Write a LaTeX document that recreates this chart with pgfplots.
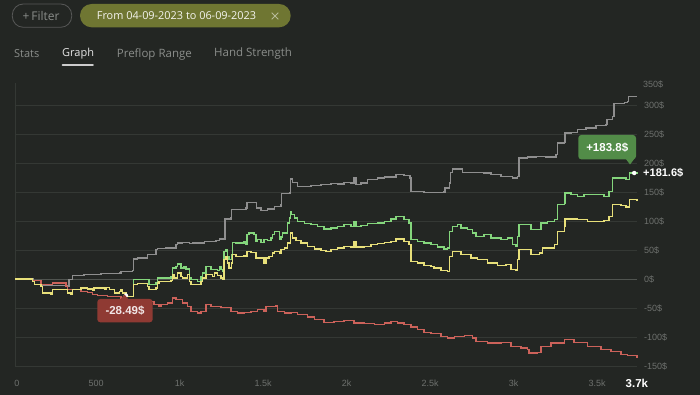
\documentclass[border=0pt]{standalone}
\usepackage{fontspec}
\setmainfont{Liberation Sans}
\newfontfamily\ui{Open Sans}
\usepackage{pgfplots}
\pgfplotsset{compat=1.18}
\definecolor{bg}{HTML}{232623}
\definecolor{gridc}{HTML}{343834}
\definecolor{zeroc}{HTML}{505450}
\definecolor{ticktxt}{HTML}{6E716E}
\definecolor{cgray}{HTML}{8E8E8E}
\definecolor{cgreen}{HTML}{84D67C}
\definecolor{cyellow}{HTML}{E8E07A}
\definecolor{cred}{HTML}{CC625A}
\definecolor{olive}{HTML}{6F7632}
\definecolor{tipgreen}{HTML}{528C48}
\definecolor{tipred}{HTML}{8F3A33}
\definecolor{tabtxt}{HTML}{8A8D8A}
\begin{document}
\begin{tikzpicture}[x=1pt,y=1pt]
\useasboundingbox (0,0) rectangle (700,395);
\fill[bg] (0,0) rectangle (700,395);
% header
\draw[color=black!60!bg!70!white, line width=0.8pt, rounded corners=11pt] (12.3,391) rectangle (71.7,367.7);
\node[text=tabtxt, font=\ui\fontsize{12}{12}\selectfont] at (41,379) {+\,Filter};
\fill[olive, rounded corners=11.6pt] (80,391) rectangle (290.7,367.7);
\node[text=white!92!olive, font=\ui\fontsize{10.9}{12}\selectfont] at (176.5,379) {From 04-09-2023 to 06-09-2023};
\draw[white!50!olive, line width=0.9pt] (271.7,382.3) -- (278.3,375.7) (271.7,375.7) -- (278.3,382.3);
\node[anchor=west, inner sep=0pt, text=tabtxt, font=\ui\fontsize{11}{12}\selectfont] at (14,341) {Stats};
\node[anchor=west, inner sep=0pt, text=white!90!black, font=\ui\fontsize{11}{12}\selectfont] at (62,341) {Graph};
\node[anchor=west, inner sep=0pt, text=tabtxt, font=\ui\fontsize{11.5}{12}\selectfont] at (116.7,341) {Preflop Range};
\node[anchor=west, inner sep=0pt, text=tabtxt, font=\ui\fontsize{11.5}{12}\selectfont] at (214,341) {Hand Strength};
\draw[white!80!black, line width=1.8pt, line cap=round] (62.5,330) -- (93,330);
\begin{axis}[
  at={(9.1,50)}, anchor=south west,
  scale only axis, width=621.7pt, height=283pt,
  xmin=0, xmax=3723, ymin=-150, ymax=338,
  axis line style={draw=none},
  major tick length=0pt,
  xtick={0,500,1000,1500,2000,2500,3000,3500},
  xticklabels={\hspace*{8.4pt}0,500,1k,1.5k,2k,2.5k,3k,3.5k},
  xticklabel style={anchor=center, yshift=-17pt, xshift=-2.5pt, text=ticktxt, font=\fontsize{9}{10}\selectfont},
  extra x ticks={3723},
  extra x tick labels={3.7k},
  extra x tick style={xticklabel style={text=white, xshift=2.5pt, font=\bfseries\fontsize{11.5}{12}\selectfont}},
  ytick={-150,-100,-50,0,50,100,150,200,250,300},
  yticklabels={-150\$,-100\$,-50\$,0\$,50\$,100\$,150\$,200\$,250\$,300\$},
  yticklabel pos=right,
  yticklabel style={anchor=west, xshift=3.7pt, text=ticktxt, font=\fontsize{9}{10}\selectfont},
  ymajorgrids, grid style={gridc, line width=0.8pt},
  clip=false,
]
\draw[gridc, line width=0.8pt] (axis cs:0,-150) -- (axis cs:0,338);
\draw[zeroc, line width=0.9pt] (axis cs:0,0) -- (axis cs:3723,0);
\addplot[const plot, cgray, line width=1.4pt] coordinates {
(0,0)(106,-2.9)(154,-11.6)(316,-12.6)(323,-1.2)(344,5.7)(413,7.4)(513,9.1)(623,10.3)(633,13.3)(703,15)(709,34.5)(733,36.2)(793,41.9)(843,50.5)(853,52.2)(902,53.4)(962,59.1)(972,62.1)(1002,63.3)(1042,60.9)(1062,62.1)(1132,65)(1202,66.7)(1222,69)(1251,69)(1256,103.4)(1292,105.7)(1296,119.5)(1382,122.4)(1388,132.2)(1442,132.2)(1446,122.4)(1472,118.4)(1511,120.7)(1551,125.3)(1591,128.1)(1595,147.1)(1641,148.3)(1647,172.4)(1661,166.7)(1691,159.8)(1771,160.8)(1831,162.6)(1890,164.3)(1931,163.8)(1970,166.7)(2010,165.5)(2030,174.1)(2040,162.6)(2070,165.5)(2110,171.2)(2170,174.1)(2210,175.9)(2280,179.8)(2329,178.1)(2365,174.1)(2369,151.2)(2449,149.5)(2569,150)(2573,156.9)(2599,165.5)(2605,184)(2619,189.6)(2669,189.6)(2679,184)(2759,184)(2808,182.8)(2849,179.8)(2908,177)(2978,174.1)(3008,177)(3018,208.6)(3068,210.3)(3118,211.5)(3178,210.3)(3218,210.3)(3238,214.3)(3248,234.5)(3288,235.7)(3292,251.7)(3328,252.9)(3368,257.4)(3417,260.3)(3477,264.3)(3537,266)(3543,274.6)(3577,280.5)(3587,302.2)(3647,304.6)(3667,306.4)(3671,315)(3723,315)
};
\addplot[const plot, cred, line width=1.4pt] coordinates {
(0,0)(104,-2.9)(154,-9.8)(214,-9.8)(224,-6.9)(284,-6.9)(304,-12.6)(314,-18.4)(393,-21.2)(434,-22.9)(463,-27)(493,-28.8)(553,-29.8)(623,-29.8)(633,-35.7)(663,-38.4)(713,-38.4)(753,-35.7)(793,-38.4)(832,-44.3)(862,-47.1)(873,-44.3)(913,-41.4)(942,-32.8)(962,-35.7)(992,-35.7)(1002,-41.4)(1032,-47.1)(1052,-55.7)(1092,-58.6)(1112,-55.7)(1142,-44.3)(1172,-47.1)(1232,-49)(1292,-55.7)(1332,-58.6)(1371,-57.4)(1411,-55.7)(1451,-52.9)(1491,-55.7)(1501,-47.1)(1561,-46)(1571,-55.7)(1611,-58.6)(1651,-57.4)(1691,-61.5)(1751,-65.5)(1791,-70.2)(1850,-74.7)(1910,-72.9)(1970,-71.2)(2030,-75.9)(2090,-77.1)(2150,-78.8)(2210,-75.9)(2250,-72.9)(2290,-75.9)(2329,-78.8)(2369,-82.8)(2409,-87.4)(2449,-91.9)(2489,-93.5)(2549,-98.8)(2589,-101.7)(2629,-98.8)(2689,-97.8)(2739,-101.7)(2759,-107.4)(2829,-110.3)(2908,-109.1)(2968,-116)(3028,-119)(3068,-121.9)(3078,-127.6)(3128,-126.4)(3148,-116)(3208,-110.3)(3288,-104.7)(3347,-109.1)(3428,-116)(3507,-121.9)(3567,-124.6)(3627,-130.5)(3667,-132.2)(3723,-136.2)
};
\addplot[const plot, cgreen, line width=1.4pt] coordinates {
(0,0)(104,-4)(114,-9.8)(154,-12.6)(164,-24.1)(214,-27)(224,-18.4)(304,-18.4)(314,-24.1)(334,-27)(344,-18.4)(393,-15.5)(434,-17.2)(463,-19.5)(473,-15.5)(513,-15.5)(533,-18.4)(543,-14.3)(563,-18.4)(593,-24.1)(623,-21.2)(633,-18.4)(643,-24.1)(663,-29.8)(703,-29.8)(709,-1.2)(753,-1.2)(802,-9.8)(843,-6.9)(853,1.7)(932,4.6)(942,19)(962,21.9)(972,25.9)(992,19)(1012,21.9)(1022,17.2)(1042,1.7)(1052,-1.2)(1092,-4)(1112,4.6)(1122,10.3)(1142,21.9)(1172,16)(1212,15)(1222,21.9)(1232,16)(1242,13.3)(1251,47.8)(1262,50.5)(1272,39.1)(1281,33.3)(1296,41.9)(1302,63.3)(1322,62.1)(1371,65)(1382,59.1)(1388,76.4)(1401,79.3)(1431,76.4)(1442,65)(1451,67.8)(1471,63.3)(1491,67.8)(1511,66.7)(1531,70.7)(1541,76.4)(1551,82.2)(1571,82.2)(1581,69)(1591,72.4)(1601,79.3)(1621,79.3)(1631,96.6)(1641,105.2)(1647,116.7)(1655,110.9)(1671,105.2)(1691,99.5)(1731,95.3)(1771,93.6)(1811,90.9)(1850,86.2)(1890,87.9)(1931,90.9)(1970,93.6)(2010,90.9)(2030,99.5)(2040,90.9)(2070,91.9)(2110,95.3)(2170,96.6)(2210,99.5)(2250,103.4)(2280,108.1)(2329,102.2)(2359,96.6)(2369,67.8)(2409,65)(2449,62.1)(2489,59.1)(2529,55.2)(2569,51.7)(2589,53.4)(2599,82.2)(2619,90.9)(2649,93.6)(2669,87.9)(2709,85)(2739,79.3)(2759,73.6)(2808,76.4)(2849,70.7)(2908,67.8)(2948,70.7)(2978,59.1)(2998,56.4)(3008,73.6)(3018,93.6)(3068,93.6)(3088,85)(3128,85)(3148,96.6)(3188,99.5)(3228,102.2)(3248,128.1)(3288,131)(3292,148.3)(3328,145.3)(3368,142.6)(3407,145.3)(3467,145.3)(3527,142.6)(3557,151.2)(3577,174.1)(3617,174.1)(3657,171.2)(3677,182.8)(3723,184)
};
\addplot[const plot, cyellow, line width=1.4pt] coordinates {
(0,0)(104,-4)(114,-9.8)(154,-12.6)(164,-24.1)(214,-27)(224,-18.4)(304,-18.4)(314,-24.1)(334,-27)(344,-18.4)(393,-15.5)(434,-17.2)(463,-19.5)(473,-15.5)(513,-15.5)(533,-18.4)(543,-14.3)(563,-18.4)(593,-24.1)(623,-21.2)(633,-18.4)(643,-24.1)(663,-29.8)(703,-29.8)(709,-9.8)(733,-8.1)(793,-12.6)(802,-18.4)(843,-15.5)(853,-6.9)(862,-4)(932,-2.3)(942,7.4)(952,1.7)(972,10.3)(992,4.6)(1002,1.7)(1022,1.7)(1032,7.4)(1042,-4)(1052,-9.8)(1102,-9.8)(1112,-4)(1122,1.7)(1142,7.4)(1182,4.6)(1192,10.3)(1212,5.7)(1232,1.7)(1242,0)(1251,33.3)(1262,39.1)(1272,27.6)(1281,19)(1296,27.6)(1302,41.9)(1322,39.1)(1371,40.2)(1382,39.1)(1388,47.8)(1411,46)(1442,36.2)(1461,36.2)(1491,27.6)(1501,36.2)(1521,39.1)(1541,44.8)(1551,47.8)(1581,44.8)(1591,50.5)(1611,53.4)(1631,62.1)(1647,79.3)(1661,70.7)(1681,66.7)(1711,62.1)(1751,56.4)(1791,51.7)(1831,49.5)(1860,47.8)(1890,50.5)(1931,53.4)(1970,56.4)(2010,55.2)(2030,65)(2040,55.2)(2090,56.4)(2130,59.1)(2170,60.9)(2210,63.3)(2250,65)(2280,69)(2329,65)(2359,59.1)(2369,30.5)(2409,27.6)(2449,22.9)(2489,21.9)(2509,19)(2549,15)(2589,13.3)(2599,39.1)(2619,47.8)(2649,47.8)(2669,41.9)(2729,36.2)(2769,33.3)(2829,27.6)(2889,22.9)(2938,24.7)(2968,16)(2998,15)(3008,33.3)(3018,50.5)(3068,50.5)(3088,41.9)(3138,44.8)(3158,53.4)(3228,59.1)(3248,82.2)(3288,90.9)(3292,103.4)(3368,102.2)(3428,99.5)(3467,99.5)(3527,101.2)(3557,108.1)(3577,128.1)(3627,126.4)(3657,124.1)(3677,136.7)(3723,135.7)
};
\addplot[only marks, mark=*, mark size=2pt, white] coordinates {(663,-28.49)(3707,182.8)};
\end{axis}
% annotations (pixel positions)
\node[anchor=west, inner sep=0pt, text=ticktxt, font=\fontsize{9}{10}\selectfont] at (643,311) {350\$};
\node[anchor=west, inner sep=0pt, text=white, font=\bfseries\fontsize{11}{12}\selectfont] at (643,222.5) {+181.6\$};
\fill[tipgreen, rounded corners=3pt] (578.3,235.7) rectangle (636,260);
\fill[tipgreen] (625.5,236.5) -- (634.5,236.5) -- (630,230.5) -- cycle;
\node[text=white, font=\bfseries\fontsize{11.5}{12}\selectfont] at (607.2,247.8) {+183.8\$};
\fill[tipred, rounded corners=3pt] (97.3,72.7) rectangle (152.7,96);
\fill[tipred] (120,95) -- (129,95) -- (124.5,100.5) -- cycle;
\node[text=white!88!tipred, font=\bfseries\fontsize{11.5}{12}\selectfont] at (125,84.3) {-28.49\$};
\end{tikzpicture}
\end{document}
